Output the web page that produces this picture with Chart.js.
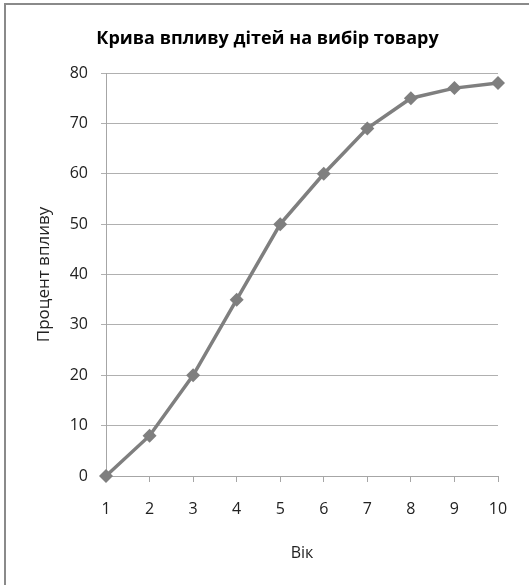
<!DOCTYPE html>
<html>
<head>
<meta charset="utf-8">
<script src="https://cdn.jsdelivr.net/npm/chart.js@4"></script>
<style>
    html, body { margin: 0; padding: 0; background: #fff; overflow: hidden; }
    #wrap { position: absolute; left: 0; top: 0; width: 529px; height: 585px; }
</style>
</head>
<body>
<div id="wrap"><canvas id="grafica"></canvas></div>
<script>
// дані графіка
const titulo = 'Крива впливу дітей на вибір товару';
const ejeX = 'Вік';
const ejeY = 'Процент впливу';
const edades = ['1', '2', '3', '4', '5', '6', '7', '8', '9', '10'];
const valores = [0, 8, 20, 35, 50, 60, 69, 75, 77, 78];
const yMin = 0;
const yMax = 80;
const yPaso = 10;

const fuente = "'Open Sans', 'DejaVu Sans', sans-serif";
const gris = '#7f7f7f';

// marco gris (solo izquierda y arriba se ven en la imagen)
const marco = {
    id: 'marco',
    beforeDraw: function(chart) {
        let c = chart.ctx;
        c.save();
        c.fillStyle = '#8a8a8a';
        c.fillRect(4, 3, 2, chart.height);
        c.fillRect(4, 3, chart.width, 2);
        c.restore();
    }
};

let ctx = document.getElementById('grafica').getContext('2d');

let graph = new Chart(ctx, {
    type: 'line',
    data: {
        labels: edades,
        datasets: [{
            label: ejeY,
            data: valores,
            borderColor: gris,
            backgroundColor: gris,
            borderWidth: 3.5,
            tension: 0,
            clip: false,
            pointStyle: 'rectRot',
            pointRadius: 7,
            pointHoverRadius: 7,
            pointBorderWidth: 0
        }]
    },
    options: {
        responsive: true,
        maintainAspectRatio: false,
        animation: false,
        layout: {
            padding: { left: 37, right: 31, top: 0, bottom: 0 }
        },
        plugins: {
            legend: { display: false },
            tooltip: { enabled: false },
            title: {
                display: true,
                text: titulo,
                color: '#000',
                font: { family: fuente, size: 18, weight: 'bold', lineHeight: 1.2 },
                padding: { top: 28, bottom: 23.4 }
            }
        },
        scales: {
            x: {
                offset: false,
                afterFit: function(scale) { scale.height = 109; },
                grid: { drawOnChartArea: false, drawTicks: true, tickLength: 6, color: '#a6a6a6' },
                border: { color: '#a6a6a6' },
                ticks: { color: '#222', font: { family: fuente, size: 16 }, padding: 18, maxRotation: 0 },
                title: {
                    display: true,
                    text: ejeX,
                    color: '#222',
                    font: { family: fuente, size: 16, lineHeight: 1.2 },
                    padding: { top: 0, bottom: 22 }
                }
            },
            y: {
                min: yMin,
                max: yMax,
                afterFit: function(scale) { scale.width = 69; },
                grid: { drawTicks: true, tickLength: 5, color: '#b0b0b0' },
                border: { color: '#a6a6a6' },
                ticks: { stepSize: yPaso, color: '#222', font: { family: fuente, size: 16 }, padding: 13 },
                title: {
                    display: true,
                    text: ejeY,
                    color: '#222',
                    font: { family: fuente, size: 17, lineHeight: 1 },
                    padding: { top: -1, bottom: 0 }
                }
            }
        }
    },
    plugins: [marco]
});
</script>
</body>
</html>
